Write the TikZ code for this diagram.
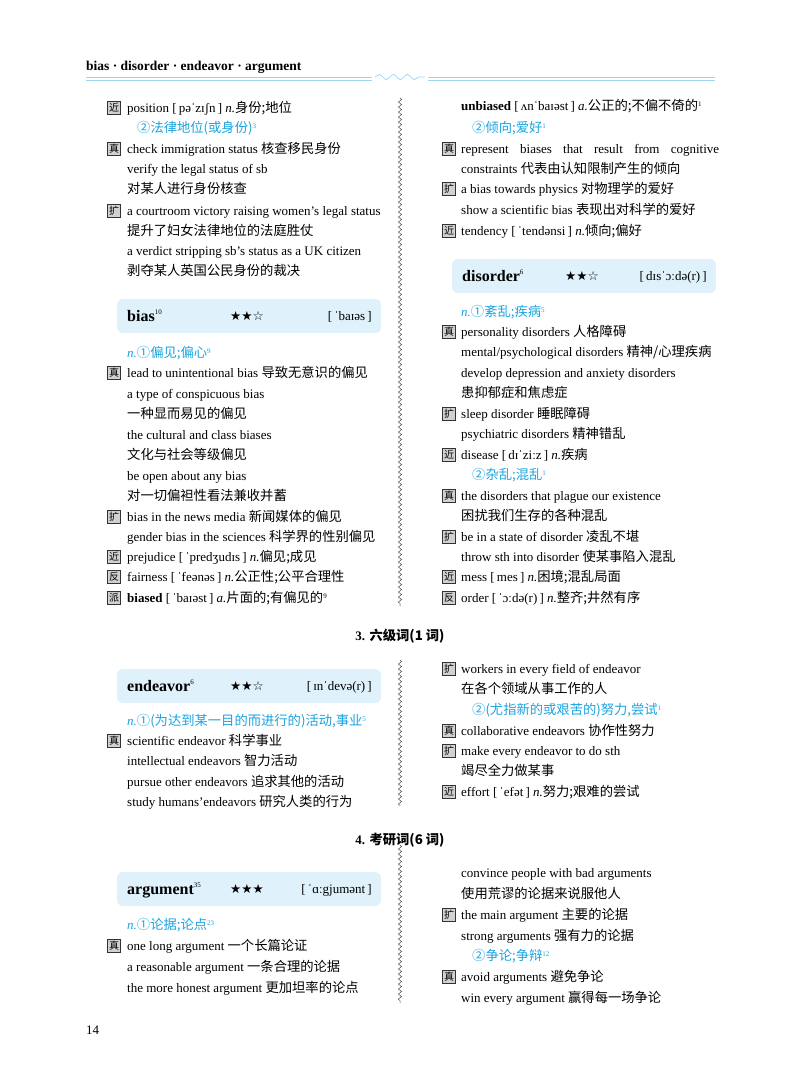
\documentclass[tikz,border=0pt]{standalone}
\usepackage{fontspec}
\setmainfont{Liberation Serif}
\newfontfamily\zh{Noto Sans CJK SC}
\newfontfamily\djsans{DejaVu Sans}
\usetikzlibrary{decorations.pathmorphing}
\definecolor{cy}{HTML}{1AA3E0}
\definecolor{boxbg}{HTML}{DFF1FA}
\definecolor{hl}{HTML}{9FD6EF}
\newcommand\Tg[3]{\node[tagbox] at (#1,-#2) {\zh #3};}
\newcommand\Ln[3]{\node[txt] at (#1,{-#2-4.5}) {#3};}
\newcommand\Cy[3]{\node[txt,text=cy] at (#1,{-#2-4.5}) {#3};}
\newcommand\sps[1]{\textsuperscript{\scriptsize #1}}
\newcommand\Z[1]{{\zh\fontsize{13.3}{15}\selectfont #1}}
\newcommand\Hd[6]{%
 \node[headbox] (#1) at (249,{-#2}) {};
 \node[txt,font=\fontsize{16}{18}\selectfont\bfseries] at (127,{-#2-5}) {#3\sps{\normalfont #4}};
 \node[txt,font=\djsans\fontsize{12.5}{14}\selectfont] at (230,{-#2-4.5}) {#5};
 \node[anchor=base east,inner sep=0] at (372,{-#2-4.5}) {[\,#6\,]};}
\tikzset{
 tagbox/.style={draw=black!80,fill=black!18,line width=0.5pt,minimum size=13pt,inner sep=0pt,font=\fontsize{10}{10}\selectfont},
 txt/.style={anchor=base west,inner sep=0pt},
 headbox/.style={fill=boxbg,rounded corners=6pt,minimum width=264pt,minimum height=34pt,inner sep=0},
 wavy/.style={decorate,decoration={snake,amplitude=1.6pt,segment length=5pt},line width=0.5pt,black!70}
}
\begin{document}
\begin{tikzpicture}[x=1pt,y=1pt,font=\fontsize{13}{15}\selectfont]
\useasboundingbox (0,0) rectangle (800,-1077);
% header
\node[txt,font=\fontsize{13.5}{15}\selectfont\bfseries] (hdr) at (86,-70) {bias · disorder · endeavor · argument};
\draw[hl,line width=0.8pt] (86,-77) -- (372,-77) (428,-77) -- (715,-77);
\draw[hl,line width=0.8pt] (86,-80) -- (372,-80) (428,-80) -- (715,-80);
\draw[hl,line width=0.8pt,decorate,decoration={snake,amplitude=2.5pt,segment length=14pt}] (375,-77) -- (425,-77);
% dividers
\draw[wavy] (400,-98) -- (400,-606);
\draw[wavy] (400,-660) -- (400,-806);
\draw[wavy] (400,-845) -- (400,-1003);
% ---------- left column ----------
\Tg{114}{108}{近}\Ln{127}{108}{position [\,pəˈzɪʃn\,] \textit{n.}\Z{身份;地位}}
\Cy{137}{128}{\Z{②法律地位(或身份)}\sps{3}}
\Tg{114}{149}{真}\Ln{127}{149}{check immigration status \Z{核查移民身份}}
\Ln{127}{169}{verify the legal status of sb}
\Ln{127}{189}{\Z{对某人进行身份核查}}
\Tg{114}{211}{扩}\Ln{127}{211}{a courtroom victory raising women’s legal status}
\Ln{127}{231}{\Z{提升了妇女法律地位的法庭胜仗}}
\Ln{127}{251}{a verdict stripping sb’s status as a UK citizen}
\Ln{127}{271}{\Z{剥夺某人英国公民身份的裁决}}
\Hd{bias}{316}{bias}{10}{★★☆}{ˈbaɪəs}
\Cy{127}{353}{\textit{n.}\Z{①偏见;偏心}\sps{9}}
\Tg{114}{373}{真}\Ln{127}{373}{lead to unintentional bias \Z{导致无意识的偏见}}
\Ln{127}{394}{a type of conspicuous bias}
\Ln{127}{414}{\Z{一种显而易见的偏见}}
\Ln{127}{435}{the cultural and class biases}
\Ln{127}{455}{\Z{文化与社会等级偏见}}
\Ln{127}{476}{be open about any bias}
\Ln{127}{496}{\Z{对一切偏袒性看法兼收并蓄}}
\Tg{114}{517}{扩}\Ln{127}{517}{bias in the news media \Z{新闻媒体的偏见}}
\Ln{127}{537}{gender bias in the sciences \Z{科学界的性别偏见}}
\Tg{114}{557}{近}\Ln{127}{557}{prejudice [\,ˈpredʒudɪs\,] \textit{n.}\Z{偏见;成见}}
\Tg{114}{577}{反}\Ln{127}{577}{fairness [\,ˈfeənəs\,] \textit{n.}\Z{公正性;公平合理性}}
\Tg{114}{598}{派}\Ln{127}{598}{\textbf{biased} [\,ˈbaɪəst\,] \textit{a.}\Z{片面的;有偏见的}\sps{9}}
% ---------- right column ----------
\Ln{461}{106}{\textbf{unbiased} [\,ʌnˈbaɪəst\,] \textit{a.}\Z{公正的;不偏不倚的}\sps{1}}
\Cy{472}{128}{\Z{②倾向;爱好}\sps{1}}
\Tg{449}{149}{真}\Ln{461}{149}{\makebox[258pt][s]{represent biases that result from cognitive}}
\Ln{461}{169}{constraints \Z{代表由认知限制产生的倾向}}
\Tg{449}{189}{扩}\Ln{461}{189}{a bias towards physics \Z{对物理学的爱好}}
\Ln{461}{210}{show a scientific bias \Z{表现出对科学的爱好}}
\Tg{449}{231}{近}\Ln{461}{231}{tendency [\,ˈtendənsi\,] \textit{n.}\Z{倾向;偏好}}
\begin{scope}[xshift=335pt,yshift=40pt]
\Hd{disorder}{316}{disorder}{6}{★★☆}{dɪsˈɔːdə(r)}
\end{scope}
\Cy{461}{312}{\textit{n.}\Z{①紊乱;疾病}\sps{5}}
\Tg{449}{332}{真}\Ln{461}{332}{personality disorders \Z{人格障碍}}
\Ln{461}{352}{mental/psychological disorders \Z{精神/心理疾病}}
\Ln{461}{373}{develop depression and anxiety disorders}
\Ln{461}{393}{\Z{患抑郁症和焦虑症}}
\Tg{449}{414}{扩}\Ln{461}{414}{sleep disorder \Z{睡眠障碍}}
\Ln{461}{434}{psychiatric disorders \Z{精神错乱}}
\Tg{449}{455}{近}\Ln{461}{455}{disease [\,dɪˈziːz\,] \textit{n.}\Z{疾病}}
\Cy{472}{475}{\Z{②杂乱;混乱}\sps{1}}
\Tg{449}{496}{真}\Ln{461}{496}{the disorders that plague our existence}
\Ln{461}{516}{\Z{困扰我们生存的各种混乱}}
\Tg{449}{537}{扩}\Ln{461}{537}{be in a state of disorder \Z{凌乱不堪}}
\Ln{461}{557}{throw sth into disorder \Z{使某事陷入混乱}}
\Tg{449}{577}{近}\Ln{461}{577}{mess [\,mes\,] \textit{n.}\Z{困境;混乱局面}}
\Tg{449}{598}{反}\Ln{461}{598}{order [\,ˈɔːdə(r)\,] \textit{n.}\Z{整齐;井然有序}}
% ---------- section 3 ----------
\node[anchor=base,inner sep=0,font=\fontsize{13}{15}\selectfont\bfseries] (s3) at (400,-640) {3. \Z{六级词(1 词)}};
\Hd{endeavor}{686}{endeavor}{6}{★★☆}{ɪnˈdevə(r)}
\Cy{127}{721}{\textit{n.}\Z{①(为达到某一目的而进行的)活动,事业}\sps{5}}
\Tg{114}{741}{真}\Ln{127}{741}{scientific endeavor \Z{科学事业}}
\Ln{127}{761}{intellectual endeavors \Z{智力活动}}
\Ln{127}{782}{pursue other endeavors \Z{追求其他的活动}}
\Ln{127}{802}{study humans’endeavors \Z{研究人类的行为}}
\Tg{449}{669}{扩}\Ln{461}{669}{workers in every field of endeavor}
\Ln{461}{689}{\Z{在各个领域从事工作的人}}
\Cy{472}{710}{\Z{②(尤指新的或艰苦的)努力,尝试}\sps{1}}
\Tg{449}{731}{真}\Ln{461}{731}{collaborative endeavors \Z{协作性努力}}
\Tg{449}{751}{扩}\Ln{461}{751}{make every endeavor to do sth}
\Ln{461}{771}{\Z{竭尽全力做某事}}
\Tg{449}{792}{近}\Ln{461}{792}{effort [\,ˈefət\,] \textit{n.}\Z{努力;艰难的尝试}}
% ---------- section 4 ----------
\node[anchor=base,inner sep=0,font=\fontsize{13}{15}\selectfont\bfseries] (s4) at (400,-844) {4. \Z{考研词(6 词)}};
\Hd{argument}{889}{argument}{35}{★★★}{ˈɑːgjumənt}
\Cy{127}{925}{\textit{n.}\Z{①论据;论点}\sps{23}}
\Tg{114}{946}{真}\Ln{127}{946}{one long argument \Z{一个长篇论证}}
\Ln{127}{967}{a reasonable argument \Z{一条合理的论据}}
\Ln{127}{988}{the more honest argument \Z{更加坦率的论点}}
\Ln{461}{873}{convince people with bad arguments}
\Ln{461}{894}{\Z{使用荒谬的论据来说服他人}}
\Tg{449}{915}{扩}\Ln{461}{915}{the main argument \Z{主要的论据}}
\Ln{461}{936}{strong arguments \Z{强有力的论据}}
\Cy{472}{956}{\Z{②争论;争辩}\sps{12}}
\Tg{449}{977}{真}\Ln{461}{977}{avoid arguments \Z{避免争论}}
\Ln{461}{998}{win every argument \Z{赢得每一场争论}}
\node[txt] (pg) at (86,-1034) {14};
\end{tikzpicture}
\end{document}
